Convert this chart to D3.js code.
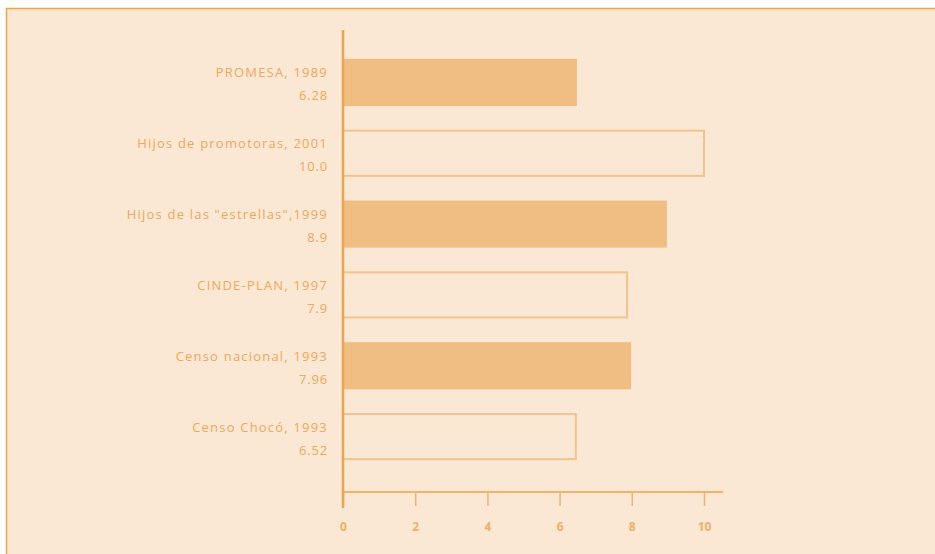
<!DOCTYPE html>
<html>
<head>
<meta charset="utf-8">
<script src="https://cdn.jsdelivr.net/npm/d3@7"></script>
<style>
  body { margin: 0; background: #ffffff; }
  svg { display: block; }
  text { font-family: "Open Sans", sans-serif; fill: #eda95c; }
</style>
</head>
<body>
<script>
const categories = [
  "PROMESA, 1989",
  "Hijos de promotoras, 2001",
  "Hijos de las \"estrellas\",1999",
  "CINDE-PLAN, 1997",
  "Censo nacional, 1993",
  "Censo Chocó, 1993"
]
const valueLabels = ["6.28", "10.0", "8.9", "7.9", "7.96", "6.52"]
// bar lengths as drawn in the picture
const values = [6.48, 10.0, 8.97, 7.87, 7.98, 6.45]
const filled = [true, false, true, false, true, false]
const ticks = [0, 2, 4, 6, 8, 10]

const w = 935
const h = 554

const svg = d3.select("body")
  .append("svg")
  .attr("width", w)
  .attr("height", h)

// panel with orange frame on top and left
svg.append("rect")
  .attr("x", 6)
  .attr("y", 8)
  .attr("width", w - 6)
  .attr("height", h - 8)
  .style("fill", "#fae7d4")

svg.append("path")
  .attr("d", "M6.5," + h + "V8.5H" + w)
  .style("fill", "none")
  .style("stroke", "#f0a544")
  .style("stroke-width", 1.5)

const xScale = d3.scaleLinear()
  .domain([0, 10])
  .range([343, 704])

const yScale = d3.scaleBand()
  .domain(categories)
  .range([47, 472])
  .paddingInner(0.335)
  .paddingOuter(0.1675)

// bars
svg.selectAll(".bar")
  .data(categories)
  .enter()
  .append("rect")
  .attr("class", "bar")
  .attr("x", xScale(0))
  .attr("y", (d, i) => yScale(d) + (filled[i] ? 0 : 1))
  .attr("width", (d, i) => xScale(values[i]) - xScale(0))
  .attr("height", (d, i) => yScale.bandwidth() - (filled[i] ? 0 : 2))
  .style("fill", (d, i) => filled[i] ? "#f0bd82" : "none")
  .style("stroke", (d, i) => filled[i] ? "none" : "#f2c38f")
  .style("stroke-width", 2)

// category labels
svg.selectAll(".cat")
  .data(categories)
  .enter()
  .append("text")
  .attr("class", "cat")
  .attr("x", 328)
  .attr("y", d => yScale(d) + yScale.bandwidth() / 2 - 5)
  .style("text-anchor", "end")
  .style("font-size", "13px")
  .style("letter-spacing", "1.2px")
  .text(d => d)

svg.selectAll(".val")
  .data(categories)
  .enter()
  .append("text")
  .attr("class", "val")
  .attr("x", 328)
  .attr("y", d => yScale(d) + yScale.bandwidth() / 2 + 18)
  .style("text-anchor", "end")
  .style("font-size", "13px")
  .style("letter-spacing", "0.8px")
  .text((d, i) => valueLabels[i])

// x axis
const xAxis = d3.axisBottom(xScale)
  .tickValues(ticks)
  .tickSize(14)
  .tickPadding(16)
  .tickFormat(d3.format("d"))

const gx = svg.append("g")
  .attr("transform", "translate(0,492)")
  .call(xAxis)

gx.select(".domain").remove()
gx.selectAll(".tick line")
  .style("stroke", "#f0b471")
  .style("stroke-width", 1.5)
gx.selectAll(".tick text")
  .style("fill", "#efb06a")
  .style("font-family", "'Open Sans', sans-serif")
  .style("font-weight", "bold")
  .style("font-size", "12px")

svg.append("line")
  .attr("x1", xScale(0))
  .attr("x2", xScale(10.53))
  .attr("y1", 492)
  .attr("y2", 492)
  .style("stroke", "#f0b471")
  .style("stroke-width", 2)

// y axis line
svg.append("line")
  .attr("x1", xScale(0))
  .attr("x2", xScale(0))
  .attr("y1", 30)
  .attr("y2", 508)
  .style("stroke", "#eea44e")
  .style("stroke-width", 2.5)
</script>
</body>
</html>
